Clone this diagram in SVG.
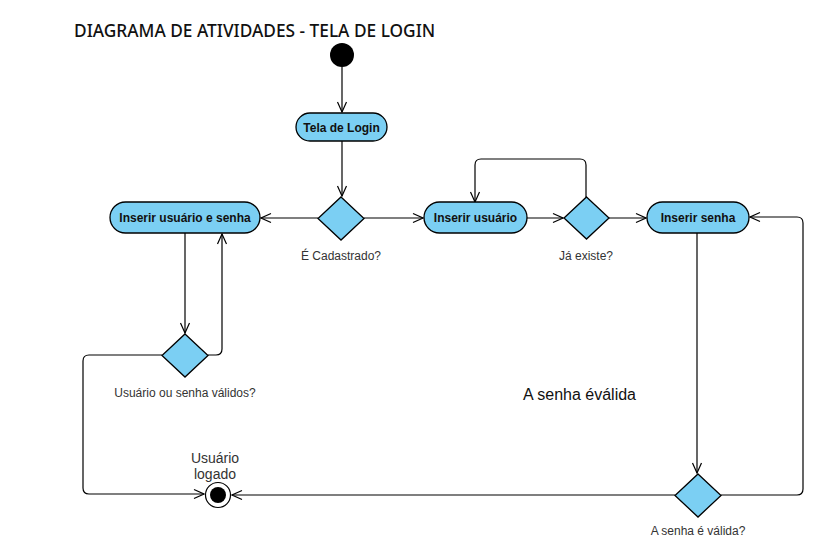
<svg xmlns="http://www.w3.org/2000/svg" width="817" height="541" viewBox="0 0 817 541">
<defs>
<marker id="arr" markerWidth="12" markerHeight="12" viewBox="0 0 12 12" refX="11" refY="6" orient="auto" markerUnits="userSpaceOnUse">
<path d="M1,1.5 L11,6 L1,10.5" fill="none" stroke="#000" stroke-width="1.2"/>
</marker>
<style>
.act{fill:#7bcff3;stroke:#000;stroke-width:1.3}
.dec{fill:#7bcff3;stroke:#000;stroke-width:1.3}
.t{font-family:"Liberation Sans",Arial,sans-serif;font-size:12px;font-weight:bold;fill:#111;text-anchor:middle}
.lbl{font-family:"Liberation Sans",Arial,sans-serif;font-size:12px;fill:#333;text-anchor:middle}
.c{fill:none;stroke:#000;stroke-width:1.2}
</style>
</defs>
<rect width="817" height="541" fill="#fff"/>
<text x="74" y="37" font-family="'Noto Sans',sans-serif" font-size="17.3" font-weight="500" fill="#111">DIAGRAMA DE ATIVIDADES - TELA DE LOGIN</text>

<g id="connectors">
<path class="c" d="M342,67 L342,112" marker-end="url(#arr)"/>
<path class="c" d="M342,141 L342,196" marker-end="url(#arr)"/>
<path class="c" d="M318,218 L261,218" marker-end="url(#arr)"/>
<path class="c" d="M364,218 L423,218" marker-end="url(#arr)"/>
<path class="c" d="M527,218 L563,218" marker-end="url(#arr)"/>
<path class="c" d="M609,218 L646,218" marker-end="url(#arr)"/>
<path class="c" d="M586,197 L586,165 Q586,159 580,159 L481,159 Q475,159 475,165 L475,202" marker-end="url(#arr)"/>
<path class="c" d="M185,233 L185,333" marker-end="url(#arr)"/>
<path class="c" d="M208,355 L216,355 Q222,355 222,349 L222,234" marker-end="url(#arr)"/>
<path class="c" d="M162,355 L89,355 Q83,355 83,361 L83,488 Q83,494 89,494 L204,494" marker-end="url(#arr)"/>
<path class="c" d="M697,233 L697,473" marker-end="url(#arr)"/>
<path class="c" d="M675,495 L232,495" marker-end="url(#arr)"/>
<path class="c" d="M721,495 L797,495 Q803,495 803,489 L803,223 Q803,217 797,217 L750,217" marker-end="url(#arr)"/>
</g>

<g id="start"><circle cx="342" cy="55" r="12" fill="#000"/></g>

<g id="tela-login">
<rect class="act" x="296" y="113" width="91" height="28" rx="14"/>
<text class="t" x="341.5" y="131.5">Tela de Login</text>
</g>

<g id="dec-cadastrado">
<polygon class="dec" points="341,197 364,218.5 341,240 318,218.5"/>
<text class="lbl" x="341" y="260">É Cadastrado?</text>
</g>

<g id="inserir-usuario-senha">
<rect class="act" x="110" y="202" width="150" height="31" rx="15.5"/>
<text class="t" x="185" y="222">Inserir usuário e senha</text>
</g>

<g id="inserir-usuario">
<rect class="act" x="424" y="202" width="103" height="31" rx="15.5"/>
<text class="t" x="475.5" y="222">Inserir usuário</text>
</g>

<g id="dec-existe">
<polygon class="dec" points="586.5,197 609,218 586.5,239 564,218"/>
<text class="lbl" x="586" y="260">Já existe?</text>
</g>

<g id="inserir-senha">
<rect class="act" x="647" y="202" width="102" height="31" rx="15.5"/>
<text class="t" x="698" y="222">Inserir senha</text>
</g>

<g id="dec-validos">
<polygon class="dec" points="185,334 208,355.5 185,377 162,355.5"/>
<text class="lbl" x="185" y="397">Usuário ou senha válidos?</text>
</g>

<g id="dec-senha-valida">
<polygon class="dec" points="698,474 721,495.5 698,517 675,495.5"/>
<text class="lbl" x="698" y="535">A senha é válida?</text>
</g>

<g id="end">
<circle cx="218" cy="495" r="12.5" fill="#fff" stroke="#000" stroke-width="1.2"/>
<circle cx="218" cy="495" r="8" fill="#000"/>
<text x="215" y="463" font-family="'Liberation Sans',Arial,sans-serif" font-size="14" fill="#333" text-anchor="middle">Usuário</text>
<text x="215" y="479" font-family="'Liberation Sans',Arial,sans-serif" font-size="14" fill="#333" text-anchor="middle">logado</text>
</g>

<text x="523" y="400" font-family="'Liberation Sans',Arial,sans-serif" font-size="16" fill="#111">A senha éválida</text>
</svg>
